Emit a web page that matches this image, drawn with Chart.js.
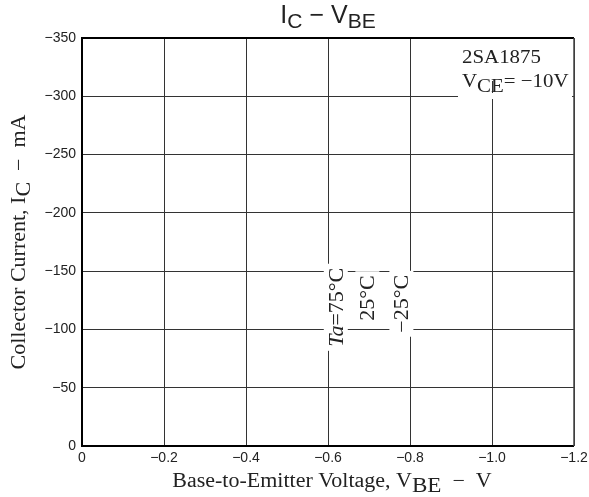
<!DOCTYPE html>
<html>
<head>
<meta charset="utf-8">
<script src="https://cdn.jsdelivr.net/npm/chart.js@4"></script>
<style>
  html, body { margin: 0; padding: 0; background: #fff; }
  canvas { display: block; }
</style>
</head>
<body>
<canvas id="chart" width="589" height="497"></canvas>
<script>
// axis ranges / ticks
const vbeTicks = [0, -0.2, -0.4, -0.6, -0.8, -1.0, -1.2]
const icTicks = [0, -50, -100, -150, -200, -250, -300, -350]

// curve labels (the curves themselves are not printed in the source graph)
const tempLabels = [['Ta', '=75°C'], ['', '25°C'], ['', '−25°C']]
const labelVbe = [-0.619, -0.696, -0.779]
const labelIc = [-119, -127, -122]

const SANS = '"Liberation Sans", Arial, sans-serif'
const SERIF = '"Liberation Serif", "Times New Roman", serif'
const STRETCH = 1.1 // serif text in the source is a bit wide

const minus = v => (v < 0 ? '−' : '') + Math.abs(v)

// draws text pieces (with subscripts) from x on baseline y, stretched by sx
const drawRich = (ctx, parts, x, y, align, sx) => {
    sx = sx || 1
    var total = 0
    parts.forEach(p => {
        ctx.font = p.font
        p.w = ctx.measureText(p.t).width
        total += p.w
    })
    var start = align === 'center' ? x - total * sx / 2 : x
    ctx.save()
    ctx.translate(start, y)
    ctx.scale(sx, 1)
    ctx.textAlign = 'left'
    ctx.textBaseline = 'alphabetic'
    var cx = 0
    parts.forEach(p => {
        ctx.font = p.font
        ctx.fillText(p.t, cx, p.dy || 0)
        cx += p.w
    })
    ctx.restore()
    return total * sx
}

const decorations = {
    id: 'decorations',
    afterDatasetsDraw(chart) {
        const ctx = chart.ctx
        const area = chart.chartArea
        ctx.save()
        ctx.fillStyle = '#222'

        // curve labels, rotated, with white backing over the grid
        const meta = chart.getDatasetMeta(0)
        meta.data.forEach((pt, i) => {
            const parts = [
                { t: tempLabels[i][0], font: 'italic 20px ' + SERIF },
                { t: tempLabels[i][1], font: '20px ' + SERIF }
            ]
            ctx.save()
            ctx.translate(pt.x, pt.y)
            ctx.rotate(-Math.PI / 2)
            var w = 0
            parts.forEach(p => { ctx.font = p.font; w += ctx.measureText(p.t).width })
            w *= STRETCH
            ctx.fillStyle = '#fff'
            ctx.fillRect(-w / 2 - 4, -12, w + 8, 24)
            ctx.fillStyle = '#222'
            drawRich(ctx, parts, 0, 7, 'center', STRETCH)
            ctx.restore()
        })

        // device / condition box in the top right corner
        ctx.fillStyle = '#fff'
        ctx.fillRect(area.right - 116, area.top + 1, 114, 42)
        ctx.fillRect(area.right - 116, area.top + 55, 114, 6)
        ctx.fillStyle = '#222'
        drawRich(ctx, [{ t: '2SA1875', font: '19px ' + SERIF }],
            area.right - 112, area.top + 25, 'left', STRETCH)
        drawRich(ctx, [
            { t: 'V', font: '19px ' + SERIF },
            { t: 'CE', font: '19px ' + SERIF, dy: 5 },
            { t: '= −10V', font: '19px ' + SERIF }
        ], area.right - 112, area.top + 49, 'left', STRETCH)

        // frame
        ctx.strokeStyle = '#000'
        ctx.lineWidth = 2
        ctx.beginPath()
        ctx.moveTo(area.right, area.top)
        ctx.lineTo(area.left, area.top)
        ctx.lineTo(area.left, area.bottom)
        ctx.lineTo(area.right, area.bottom)
        ctx.stroke()
        ctx.strokeStyle = '#444'
        ctx.lineWidth = 1.5
        ctx.beginPath()
        ctx.moveTo(area.right, area.top)
        ctx.lineTo(area.right, area.bottom)
        ctx.stroke()

        // chart title
        const cx = (area.left + area.right) / 2
        drawRich(ctx, [
            { t: 'I', font: '25px ' + SANS },
            { t: 'C', font: '21px ' + SANS, dy: 5 },
            { t: ' − ', font: '25px ' + SANS },
            { t: 'V', font: '25px ' + SANS },
            { t: 'BE', font: '21px ' + SANS, dy: 5 }
        ], cx, 23, 'center')

        // x axis title
        drawRich(ctx, [
            { t: 'Base-to-Emitter Voltage, V', font: '20px ' + SERIF },
            { t: 'BE', font: '21px ' + SERIF, dy: 5 },
            { t: '  −  V', font: '20px ' + SERIF }
        ], cx + 4, 487, 'center', STRETCH)

        // y axis title
        ctx.save()
        ctx.translate(25, (area.top + area.bottom) / 2)
        ctx.rotate(-Math.PI / 2)
        drawRich(ctx, [
            { t: 'Collector Current, I', font: '20px ' + SERIF },
            { t: 'C', font: '20px ' + SERIF, dy: 5 },
            { t: '  −  mA', font: '20px ' + SERIF }
        ], 0, 0, 'center', STRETCH)
        ctx.restore()

        ctx.restore()
    }
}

new Chart('chart', {
    type: 'scatter',
    data: {
        datasets: [{
            label: 'curve labels',
            data: labelVbe.map((v, i) => ({ x: v, y: labelIc[i] })),
            pointRadius: 0,
            showLine: false
        }]
    },
    options: {
        responsive: false,
        animation: false,
        devicePixelRatio: 1,
        layout: { padding: { left: 0, right: 15, top: 38, bottom: 0 } },
        plugins: {
            legend: { display: false },
            tooltip: { enabled: false }
        },
        scales: {
            x: {
                type: 'linear',
                min: Math.min(...vbeTicks),
                max: Math.max(...vbeTicks),
                reverse: true,
                afterBuildTicks: s => { s.ticks = vbeTicks.map(v => ({ value: v })) },
                afterFit: s => {
                    s.height = 51
                    s.paddingLeft = 0
                    s.paddingRight = 0
                },
                ticks: {
                    callback: v => v === 0 ? '0' : '−' + Math.abs(v).toFixed(1),
                    font: { family: SANS, size: 14 },
                    color: '#222',
                    padding: 4,
                    maxRotation: 0,
                    autoSkip: false
                },
                grid: { color: '#333', lineWidth: 1, drawTicks: false },
                border: { display: false }
            },
            y: {
                type: 'linear',
                min: Math.min(...icTicks),
                max: Math.max(...icTicks),
                reverse: true,
                afterBuildTicks: s => { s.ticks = icTicks.map(v => ({ value: v })) },
                afterFit: s => {
                    s.width = 82
                    s.paddingTop = 0
                    s.paddingBottom = 0
                },
                ticks: {
                    callback: v => minus(v),
                    font: { family: SANS, size: 14 },
                    color: '#222',
                    padding: 6,
                    autoSkip: false
                },
                grid: { color: '#333', lineWidth: 1, drawTicks: false },
                border: { display: false }
            }
        }
    },
    plugins: [decorations]
})
</script>
</body>
</html>
